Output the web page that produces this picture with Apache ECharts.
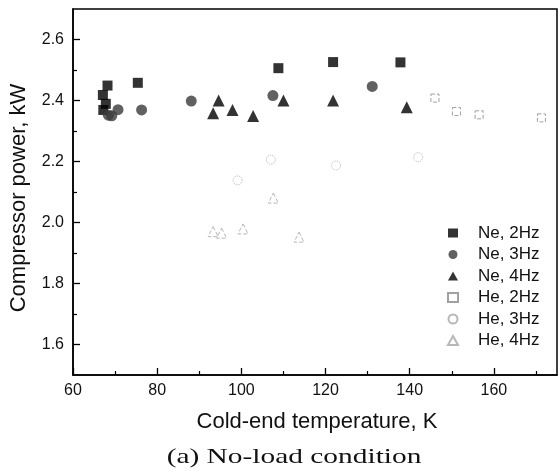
<!DOCTYPE html>
<html><head><meta charset="utf-8">
<script src="https://cdn.jsdelivr.net/npm/echarts@6/dist/echarts.min.js"></script>
<style>html,body{margin:0;padding:0;background:#fff}#c{width:560px;height:475px}</style>
</head><body><div id="c"></div>
<script>
// Data (T = cold-end temperature K, P = compressor power kW)
const ne2_T = [67.1, 67.2, 67.8, 68.2, 75.4, 108.8, 121.8, 137.8];
const ne2_P = [2.418, 2.369, 2.389, 2.449, 2.458, 2.506, 2.526, 2.525];
const ne3_T = [68.4, 69.2, 70.7, 76.3, 88.1, 107.5, 131.1];
const ne3_P = [2.352, 2.350, 2.370, 2.369, 2.398, 2.416, 2.446];
const ne4_T = [93.3, 94.6, 97.9, 102.8, 110.0, 121.8, 139.3];
const ne4_P = [2.358, 2.400, 2.369, 2.349, 2.400, 2.400, 2.378];
const he2_T = [146.0, 151.1, 156.5, 171.3];
const he2_P = [2.408, 2.364, 2.353, 2.343];
const he3_T = [99.1, 107.0, 122.5, 142.0];
const he3_P = [2.138, 2.206, 2.187, 2.214];
const he4_T = [93.3, 95.3, 100.4, 107.6, 113.7];
const he4_P = [1.970, 1.965, 1.979, 2.080, 1.952];
const seriesNames = ['Ne, 2Hz', 'Ne, 3Hz', 'Ne, 4Hz', 'He, 2Hz', 'He, 3Hz', 'He, 4Hz'];
const xMajorTicks = [60, 80, 100, 120, 140, 160];
const xMinorTicks = [70, 90, 110, 130, 150, 170];
const yMajorTicks = [1.6, 1.8, 2.0, 2.2, 2.4, 2.6];
const yMinorTicks = [1.7, 1.9, 2.1, 2.3, 2.5];
const xTitle = 'Cold-end temperature, K';
const yTitle = 'Compressor power, kW';
const caption = '(a) No-load condition';

const zip = (a, b) => a.map((v, i) => [v, b[i]]);
const font = 'Liberation Sans, Arial, sans-serif';
const chart = echarts.init(document.getElementById('c'), null, {renderer: 'canvas'});

const majorAxisX = {
  type: 'value', min: 60, max: 175, position: 'bottom',
  axisLine: {show: true, lineStyle: {color: '#000', width: 1.5}},
  axisTick: {show: true, inside: true, length: 7, customValues: xMajorTicks, lineStyle: {color: '#000', width: 1.3}},
  axisLabel: {customValues: xMajorTicks, color: '#111', fontSize: 16, fontFamily: font, margin: 8},
  splitLine: {show: false}
};
const minorAxisX = {
  type: 'value', min: 60, max: 175, position: 'bottom',
  axisLine: {show: false},
  axisTick: {show: true, inside: true, length: 4, customValues: xMinorTicks, lineStyle: {color: '#000', width: 1.2}},
  axisLabel: {show: false}, splitLine: {show: false}
};
const majorAxisY = {
  type: 'value', min: 1.5, max: 2.7, position: 'left',
  axisLine: {show: true, lineStyle: {color: '#000', width: 1.5}},
  axisTick: {show: true, inside: true, length: 7, customValues: yMajorTicks, lineStyle: {color: '#000', width: 1.3}},
  axisLabel: {customValues: yMajorTicks, color: '#111', fontSize: 16, fontFamily: font, margin: 9,
    formatter: v => v.toFixed(1)},
  splitLine: {show: false}
};
const minorAxisY = {
  type: 'value', min: 1.5, max: 2.7, position: 'left',
  axisLine: {show: false},
  axisTick: {show: true, inside: true, length: 4, customValues: yMinorTicks, lineStyle: {color: '#000', width: 1.2}},
  axisLabel: {show: false}, splitLine: {show: false}
};

const styles = [
  {symbol: 'rect', size: 10, item: {color: '#000'}},
  {symbol: 'circle', size: 11, item: {color: '#3a3a3a'}},
  {symbol: 'triangle', size: 12, item: {color: '#000'}},
  {symbol: 'rect', size: 8, item: {color: 'rgba(0,0,0,0)', borderColor: '#8a8a8a', borderWidth: 1, borderType: 'dashed'}},
  {symbol: 'circle', size: 9, item: {color: 'rgba(0,0,0,0)', borderColor: '#a5a5a5', borderWidth: 1, borderType: 'dotted'}},
  {symbol: 'triangle', size: 10, item: {color: 'rgba(0,0,0,0)', borderColor: '#a5a5a5', borderWidth: 1, borderType: 'dashed'}}
];
const dataSets = [zip(ne2_T, ne2_P), zip(ne3_T, ne3_P), zip(ne4_T, ne4_P), zip(he2_T, he2_P), zip(he3_T, he3_P), zip(he4_T, he4_P)];

chart.setOption({
  animation: false,
  backgroundColor: '#fff',
  grid: {left: 73, right: 3, top: 9, bottom: 100, show: true, borderColor: '#000', borderWidth: 1.5, backgroundColor: 'rgba(0,0,0,0)'},
  xAxis: [majorAxisX, minorAxisX],
  yAxis: [majorAxisY, minorAxisY],
  legend: {
    orient: 'vertical', left: 442, top: 219, itemWidth: 10, itemHeight: 9, itemGap: 3.5,
    textStyle: {fontSize: 17, fontFamily: font, color: '#111', lineHeight: 18, padding: [0, 0, 0, 15]},
    data: seriesNames
  },
  series: seriesNames.map((n, i) => ({
    name: n, type: 'scatter', xAxisIndex: 0, yAxisIndex: 0,
    symbol: styles[i].symbol, symbolSize: styles[i].size,
    itemStyle: styles[i].item, data: dataSets[i]
  })),
  graphic: [
    {type: 'text', x: 19, y: 198, rotation: Math.PI / 2,
      style: {text: yTitle, fontSize: 22, fontFamily: font, fill: '#111', textAlign: 'center', textVerticalAlign: 'middle'}},
    {type: 'text', x: 317, y: 422,
      style: {text: xTitle, fontSize: 22, fontFamily: font, fill: '#111', textAlign: 'center', textVerticalAlign: 'middle'}},
    {type: 'text', x: 294, y: 457, scaleX: 1.4,
      style: {text: caption, fontSize: 21, fontFamily: 'Liberation Serif, serif', fill: '#111', textAlign: 'center', textVerticalAlign: 'middle'}}
  ]
});
</script>
</body></html>
